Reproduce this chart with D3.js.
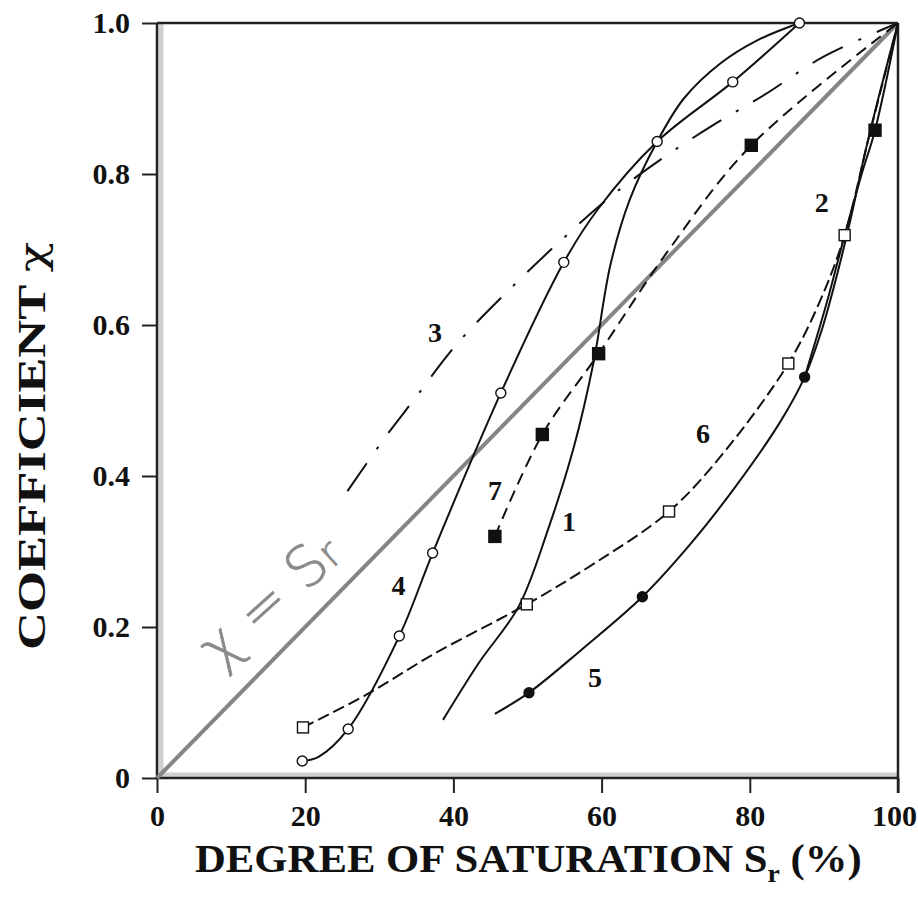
<!DOCTYPE html>
<html><head><meta charset="utf-8">
<script src="https://cdn.jsdelivr.net/npm/d3@7"></script>
<style>body{margin:0;background:#fff}svg{display:block}</style>
</head><body>
<svg id="c" width="918" height="902"></svg>
<script>
// ---- data ----
const xTicks = [0, 20, 40, 60, 80, 100];
const yTicks = [0, 0.2, 0.4, 0.6, 0.8, 1.0];
const xTitle = "DEGREE OF SATURATION S";
const yTitle = "COEFFICIENT ";
const refLine = [[0, 0], [100, 1]];
const curve1 = [[38.6,0.077],[43.4,0.152],[48.8,0.227],[52.8,0.33],[56.3,0.44],[58.9,0.55],[61.2,0.68],[63.8,0.766],[67.5,0.843],[71.1,0.90],[76.1,0.947],[81,0.977],[86.7,1.0]];
const curve2 = [[87.4,0.531],[90.4,0.63],[92.8,0.719],[95.1,0.80],[96.9,0.858],[100,1.0]];
const curve2Marks = [[96.9,0.858]];
const curve3 = [[25.7,0.38],[30.7,0.45],[34.6,0.50],[40.5,0.575],[48.4,0.655],[55.4,0.72],[61.2,0.77],[68.1,0.82],[75.1,0.865],[82,0.905],[89.9,0.955],[100,1.0]];
const curve4 = [[19.6,0.0225],[21.8,0.028],[25.8,0.065],[32.7,0.188],[37.2,0.298],[46.4,0.51],[54.9,0.683],[59.4,0.752],[67.5,0.843],[77.7,0.922],[86.7,1.0]];
const curve4Marks = [[19.6,0.0225],[25.8,0.065],[32.7,0.188],[37.2,0.298],[46.4,0.51],[54.9,0.683],[67.5,0.843],[77.7,0.922],[86.7,1.0]];
const curve5 = [[45.6,0.085],[50.2,0.113],[57.3,0.17],[65.5,0.24],[72,0.31],[78,0.385],[84,0.47],[87.4,0.531],[89.6,0.59],[91.6,0.66],[93.6,0.74],[95.6,0.83],[97.6,0.91],[100,1.0]];
const curve5Marks = [[50.2,0.113],[65.5,0.24],[87.4,0.531]];
const curve6 = [[19.7,0.067],[28.2,0.11],[37.5,0.165],[49.9,0.23],[59.3,0.286],[69.1,0.353],[76.4,0.43],[85.2,0.549],[89.4,0.63],[92.8,0.719],[96.1,0.85],[100,1.0]];
const curve6Marks = [[19.7,0.067],[49.9,0.23],[69.1,0.353],[85.2,0.549],[92.8,0.719]];
const curve7 = [[45.6,0.32],[52,0.455],[59.6,0.562],[69.1,0.70],[80.2,0.838],[100,1.0]];
const curve7Marks = [[45.6,0.32],[52,0.455],[59.6,0.562],[80.2,0.838]];
const labels = [["1",55.6,0.34],["2",89.7,0.762],["3",37.5,0.59],["4",32.6,0.256],["5",59.1,0.134],["6",73.7,0.457],["7",45.6,0.381]];

// ---- chart ----
const svg = d3.select("#c");
const x = d3.scaleLinear().domain([0, 100]).range([157, 898]);
const y = d3.scaleLinear().domain([0, 1]).range([778, 23]);
const serif = "'Liberation Serif','Times New Roman',serif";

// grey inner band
svg.append("line").attr("x1", 161).attr("x2", 161).attr("y1", y(1)).attr("y2", y(0)).attr("stroke", "#d0d0d0").attr("stroke-width", 5);
svg.append("line").attr("x1", x(0)).attr("x2", x(100)).attr("y1", 775).attr("y2", 775).attr("stroke", "#d0d0d0").attr("stroke-width", 5);

// axes
const yAxis = d3.axisLeft(y).tickValues(yTicks).tickSize(15).tickPadding(12)
  .tickFormat(d => d === 0 ? "0" : d3.format(".1f")(d));
const gy = svg.append("g").attr("transform", `translate(${x(0)},0)`).call(yAxis);
const xAxis = d3.axisBottom(x).tickValues(xTicks).tickSize(15).tickPadding(12).tickFormat(d3.format("d"));
const gx = svg.append("g").attr("transform", `translate(0,${y(0)})`).call(xAxis);
[gx, gy].forEach(g => {
  g.select(".domain").attr("stroke", "#222").attr("stroke-width", 2.5);
  g.selectAll(".tick line").attr("stroke", "#222").attr("stroke-width", 2);
  g.selectAll(".tick text").attr("font-family", serif).attr("font-weight", "bold").attr("font-size", 30).attr("fill", "#111");
});
gx.selectAll(".tick text").filter(d => d === 100).attr("dx", -4);
gy.select(".domain").attr("d", `M0,${y(1)}V${y(0)}`);
gx.select(".domain").attr("d", `M${x(0)},0H${x(100)}`);
// top and right frame
svg.append("line").attr("x1", x(0)).attr("x2", x(100)).attr("y1", y(1)).attr("y2", y(1)).attr("stroke", "#222").attr("stroke-width", 2.5);
svg.append("line").attr("x1", x(100)).attr("x2", x(100)).attr("y1", y(1)).attr("y2", y(0) + 15).attr("stroke", "#222").attr("stroke-width", 2.5);

// reference line
const straight = d3.line().x(d => x(d[0])).y(d => y(d[1]));
svg.append("path").attr("d", straight(refLine)).attr("fill", "none").attr("stroke", "#858585").attr("stroke-width", 4);

// curves
const smooth = d3.line().x(d => x(d[0])).y(d => y(d[1])).curve(d3.curveCatmullRom.alpha(0.5));
function drawCurve(data, dash) {
  svg.append("path").attr("d", smooth(data)).attr("fill", "none").attr("stroke", "#111")
    .attr("stroke-width", 2).attr("stroke-dasharray", dash || null);
}
drawCurve(curve1);
drawCurve(curve2);
drawCurve(curve3, "34,17,3,17");
drawCurve(curve4);
drawCurve(curve5);
drawCurve(curve6, "12,5");
drawCurve(curve7, "12,7");

// markers
function circles(data, fill) {
  svg.append("g").selectAll("circle").data(data).join("circle")
    .attr("cx", d => x(d[0])).attr("cy", d => y(d[1])).attr("r", 5)
    .attr("fill", fill).attr("stroke", "#111").attr("stroke-width", 1.4);
}
function squares(data, fill, s) {
  svg.append("g").selectAll("rect").data(data).join("rect")
    .attr("x", d => x(d[0]) - s / 2).attr("y", d => y(d[1]) - s / 2).attr("width", s).attr("height", s)
    .attr("fill", fill).attr("stroke", "#111").attr("stroke-width", 1.4);
}
circles(curve4Marks, "#fff");
circles(curve5Marks, "#111");
squares(curve6Marks, "#fff", 11);
squares(curve7Marks, "#111", 12);
squares(curve2Marks, "#111", 12);

// curve labels
svg.append("g").selectAll("text").data(labels).join("text")
  .attr("x", d => x(d[1])).attr("y", d => y(d[2])).attr("dy", "0.35em")
  .attr("text-anchor", "middle").attr("font-family", serif).attr("font-weight", "bold")
  .attr("font-size", 28).attr("fill", "#111").text(d => d[0]);

// chi = Sr annotation
const ann = svg.append("text").attr("transform", `translate(220,670) rotate(-42)`)
  .attr("font-family", "'DejaVu Sans','Liberation Sans',sans-serif").attr("font-weight", 200)
  .attr("font-size", 56).attr("fill", "#8a8a8a").attr("stroke", "#8a8a8a").attr("stroke-width", 0.8);
ann.append("tspan").text("\u03C7 = S");
ann.append("tspan").attr("font-size", 40).text("r");

// axis titles
const xt = svg.append("text").attr("font-family", serif).attr("font-weight", "bold")
  .attr("font-size", 40).attr("fill", "#111").attr("x", 0).attr("y", 0);
xt.append("tspan").text(xTitle);
xt.append("tspan").attr("font-size", 26).attr("dy", 10).text("r");
xt.append("tspan").attr("dy", -10).text(" (%)");
const xb = xt.node().getBBox();
xt.attr("transform", `translate(195,872) scale(${667 / xb.width},1)`);

const yt = svg.append("text").attr("font-family", serif).attr("font-weight", "bold")
  .attr("font-size", 40).attr("fill", "#111").attr("text-anchor", "middle");
yt.append("tspan").text(yTitle);
yt.append("tspan").attr("font-family", "'DejaVu Serif',serif").attr("font-weight", "normal").attr("font-size", 38).text("\u03C7");
const yb = yt.node().getBBox();
yt.attr("transform", `translate(45,446) rotate(-90) scale(${408 / yb.width},1)`);
</script>
</body></html>
